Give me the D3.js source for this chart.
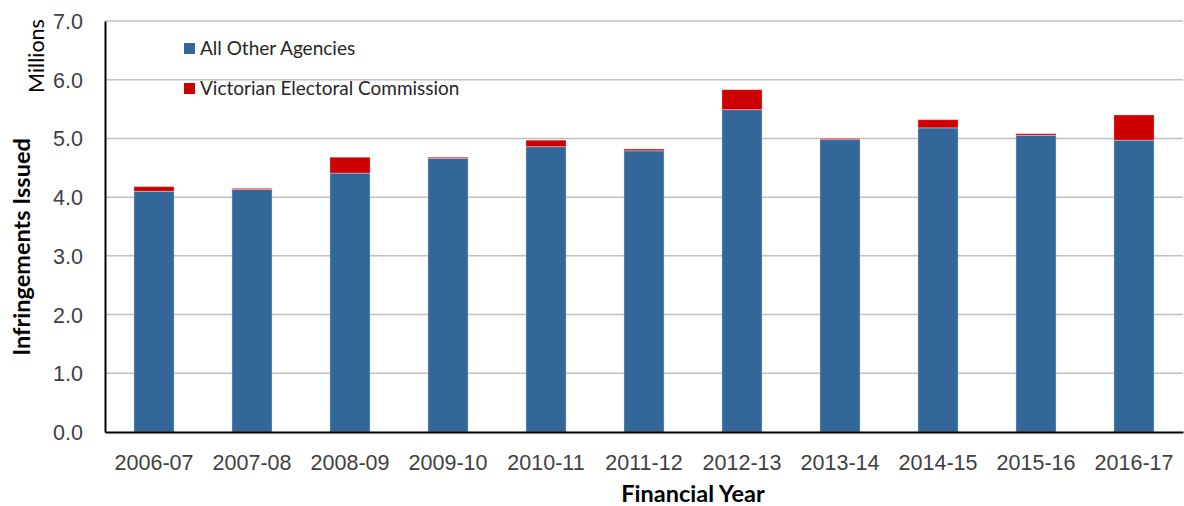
<!DOCTYPE html>
<html>
<head>
<meta charset="utf-8">
<script src="https://cdn.jsdelivr.net/npm/d3@7"></script>
<style>
  body { margin: 0; background: #fff; }
  svg { font-family: Lato, "Open Sans", sans-serif; }
  .tick text { fill: #404040; font-size: 21.5px; }
  .axis-title { font-weight: bold; fill: #000; }
</style>
</head>
<body>
<div id="chart"></div>
<script>
// Data (millions)
var years = ['2006-07', '2007-08', '2008-09', '2009-10', '2010-11', '2011-12',
             '2012-13', '2013-14', '2014-15', '2015-16', '2016-17'];
var otherAgencies = [4.10, 4.13, 4.41, 4.66, 4.86, 4.79, 5.49, 4.98, 5.18, 5.05, 4.97];
var vec = [0.08, 0.02, 0.27, 0.02, 0.11, 0.03, 0.34, 0.02, 0.14, 0.03, 0.43];
var seriesNames = ['All Other Agencies', 'Victorian Electoral Commission'];
var colors = ['#336699', '#CC0000'];
var yTicks = [0, 1, 2, 3, 4, 5, 6, 7];

var width = 1184, height = 506;
var margin = {left: 105, right: 1, top: 21, bottom: 74};

var svg = d3.select('#chart').append('svg')
  .attr('width', width)
  .attr('height', height);

var x = d3.scaleBand()
  .domain(years)
  .range([margin.left, width - margin.right])
  .paddingInner(0.59)
  .paddingOuter(0.295);

var y = d3.scaleLinear()
  .domain([0, 7])
  .range([height - margin.bottom, margin.top]);

// Gridlines
svg.append('g')
  .selectAll('line')
  .data(yTicks.filter(function(d){ return d > 0; }))
  .enter().append('line')
  .attr('x1', margin.left)
  .attr('x2', width - margin.right)
  .attr('y1', function(d){ return y(d); })
  .attr('y2', function(d){ return y(d); })
  .attr('stroke', '#c0c0c0')
  .attr('stroke-width', 1.5);

// Stacked bars
var rows = years.map(function(yr, i){
  return {year: yr, other: otherAgencies[i], vec: vec[i]};
});
var stack = d3.stack().keys(['other', 'vec']);
var layers = stack(rows);

svg.append('g')
  .selectAll('g')
  .data(layers)
  .enter().append('g')
  .attr('fill', function(d, i){ return colors[i]; })
  .selectAll('rect')
  .data(function(d){ return d; })
  .enter().append('rect')
  .attr('x', function(d){ return x(d.data.year); })
  .attr('width', x.bandwidth())
  .attr('y', function(d){ return y(d[1]); })
  .attr('height', function(d){ return y(d[0]) - y(d[1]); })
  .attr('stroke', 'rgba(255,255,255,0.35)')
  .attr('stroke-width', 1);

// Axes
var yAxis = svg.append('g')
  .attr('transform', 'translate(' + margin.left + ',0)')
  .call(d3.axisLeft(y).tickValues(yTicks).tickFormat(d3.format('.1f')).tickSize(0).tickPadding(22));
yAxis.select('.domain').attr('stroke', '#000').attr('stroke-width', 2);
yAxis.selectAll('.tick text').attr('dy', '0.35em');

var xAxis = svg.append('g')
  .attr('transform', 'translate(0,' + (height - margin.bottom) + ')')
  .call(d3.axisBottom(x).tickSize(0).tickPadding(23));
xAxis.select('.domain').attr('stroke', '#000').attr('stroke-width', 2);

// Axis titles
svg.append('text')
  .attr('class', 'axis-title')
  .attr('font-size', 23.5)
  .attr('transform', 'translate(30,247) rotate(-90)')
  .attr('text-anchor', 'middle')
  .text('Infringements Issued');

svg.append('text')
  .attr('transform', 'translate(44,56) rotate(-90)')
  .attr('text-anchor', 'middle')
  .attr('font-size', 21.5)
  .attr('fill', '#000')
  .text('Millions');

svg.append('text')
  .attr('class', 'axis-title')
  .attr('font-size', 23.5)
  .attr('x', 693)
  .attr('y', 502)
  .attr('text-anchor', 'middle')
  .text('Financial Year');

// Legend
var legend = svg.append('g')
  .selectAll('g')
  .data(seriesNames)
  .enter().append('g')
  .attr('transform', function(d, i){ return 'translate(184,' + (43 + i * 40) + ')'; });

legend.append('rect')
  .attr('width', 11)
  .attr('height', 11)
  .attr('fill', function(d, i){ return colors[i]; });

legend.append('text')
  .attr('x', 16)
  .attr('y', 12)
  .attr('font-size', 19)
  .attr('fill', '#262626')
  .text(function(d){ return d; });
</script>
</body>
</html>
